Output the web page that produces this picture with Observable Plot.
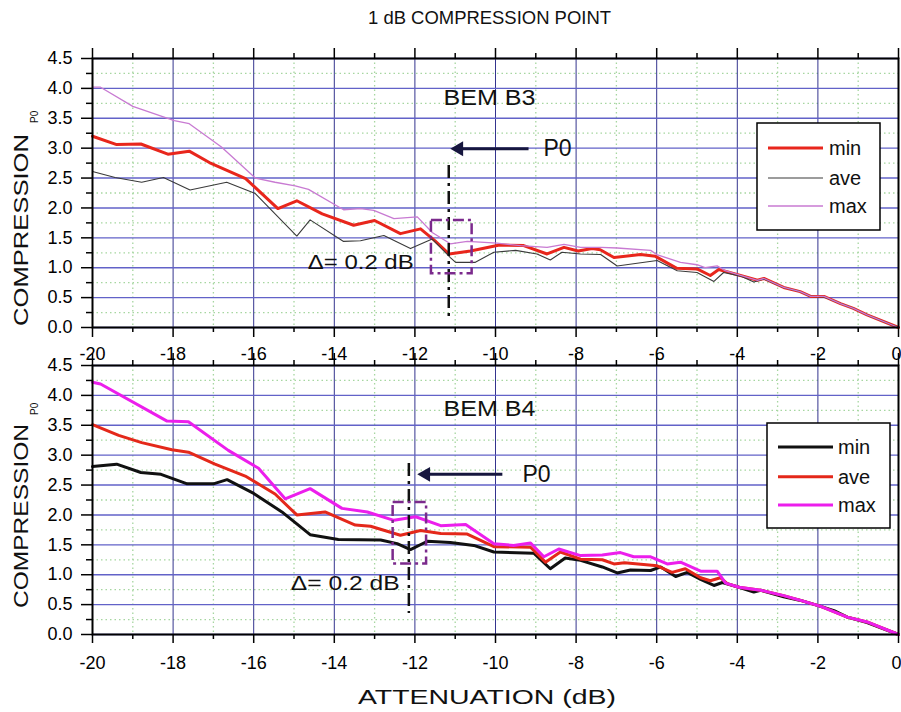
<!DOCTYPE html>
<html>
<head>
<meta charset="utf-8">
<script src="https://cdn.jsdelivr.net/npm/d3@7"></script>
<script src="https://cdn.jsdelivr.net/npm/@observablehq/plot@0.6"></script>
<style>
  body { margin: 0; background: #fff; }
  #wrap { position: relative; width: 901px; height: 712px; overflow: hidden; font-family: "Liberation Sans", Arial, sans-serif; }
  #wrap svg { position: absolute; left: 0; }
</style>
</head>
<body>
<div id="wrap"></div>
<script>
// ---------- tick values ----------
const xTicks = [-20, -18, -16, -14, -12, -10, -8, -6, -4, -2, 0];
const xMinor = [-19, -17, -15, -13, -11, -9, -7, -5, -3, -1];
const yTicks = [0, 0.5, 1, 1.5, 2, 2.5, 3, 3.5, 4, 4.5];
const yMinor = [0.25, 0.75, 1.25, 1.75, 2.25, 2.75, 3.25, 3.75, 4.25];
const seriesNames = ["min", "ave", "max"];

// ---------- BEM B3 (top panel) [attenuation dB, compression] ----------
const b3Min = [[-20,3.20],[-19.4,3.06],[-18.8,3.07],[-18.13,2.90],[-17.6,2.95],[-17.1,2.76],[-16.2,2.49],[-15.4,1.99],[-14.93,2.12],[-14.3,1.90],[-13.52,1.71],[-13.0,1.79],[-12.36,1.57],[-11.86,1.65],[-11.5,1.45],[-11.15,1.23],[-10.62,1.28],[-9.9,1.38],[-9.3,1.37],[-8.72,1.23],[-8.3,1.34],[-7.95,1.28],[-7.6,1.32],[-7.4,1.30],[-7.06,1.17],[-6.4,1.22],[-6.03,1.19],[-5.5,0.99],[-5.0,0.98],[-4.67,0.87],[-4.46,0.97],[-3.92,0.87],[-3.5,0.79],[-3.34,0.82],[-2.85,0.67],[-2.44,0.60],[-2.18,0.52],[-1.85,0.52],[-1.44,0.40],[-1.12,0.32],[-0.78,0.21],[0,0]];
const b3Ave = [[-20,2.61],[-19.44,2.51],[-18.78,2.43],[-18.24,2.51],[-17.58,2.30],[-16.67,2.43],[-15.96,2.24],[-14.93,1.53],[-14.6,1.80],[-13.77,1.44],[-13.35,1.45],[-12.77,1.54],[-12.11,1.32],[-11.57,1.48],[-11.12,1.17],[-10.99,1.09],[-10.5,1.09],[-10.04,1.26],[-9.5,1.29],[-8.97,1.23],[-8.64,1.13],[-8.35,1.26],[-7.89,1.23],[-7.39,1.22],[-6.98,1.03],[-5.99,1.12],[-5.49,0.95],[-5.0,0.92],[-4.58,0.77],[-4.34,0.92],[-3.92,0.86],[-3.59,0.76],[-3.34,0.81],[-2.85,0.67],[-2.44,0.60],[-2.18,0.52],[-1.85,0.51],[-1.44,0.40],[-1.12,0.32],[-0.78,0.21],[0,0]];
const b3Max = [[-20,4.02],[-19.8,4.02],[-19.0,3.70],[-17.97,3.46],[-17.6,3.41],[-16.8,3.02],[-15.96,2.50],[-15.47,2.43],[-14.97,2.37],[-14.64,2.31],[-13.77,1.97],[-13.35,1.99],[-13.02,1.96],[-12.52,1.82],[-11.94,1.85],[-11.57,1.59],[-11.12,1.40],[-10.70,1.44],[-9.96,1.41],[-9.38,1.37],[-8.72,1.34],[-8.30,1.39],[-7.89,1.34],[-7.39,1.34],[-6.98,1.33],[-6.15,1.29],[-6.0,1.22],[-5.41,1.09],[-5.0,1.05],[-4.8,1.00],[-4.5,1.03],[-4.3,0.95],[-3.92,0.87],[-3.5,0.79],[-3.34,0.82],[-2.85,0.67],[-2.44,0.60],[-2.18,0.52],[-1.85,0.52],[-1.44,0.40],[-1.12,0.32],[-0.78,0.21],[0,0]];

// ---------- BEM B4 (bottom panel) ----------
const b4Min = [[-20,2.81],[-19.4,2.85],[-18.8,2.71],[-18.3,2.68],[-17.65,2.52],[-17.0,2.52],[-16.66,2.59],[-16.0,2.36],[-15.3,2.05],[-14.6,1.67],[-13.9,1.59],[-12.85,1.58],[-12.44,1.52],[-12.11,1.42],[-11.69,1.56],[-11.12,1.54],[-10.54,1.49],[-10.04,1.38],[-9.05,1.36],[-8.64,1.10],[-8.27,1.28],[-7.89,1.24],[-7.35,1.13],[-6.98,1.03],[-6.65,1.08],[-6.15,1.07],[-5.9,1.13],[-5.53,0.97],[-5.24,1.04],[-4.91,0.92],[-4.58,0.82],[-4.37,0.87],[-3.96,0.79],[-3.59,0.71],[-3.42,0.74],[-2.85,0.63],[-2.43,0.57],[-1.93,0.47],[-1.6,0.40],[-1.27,0.29],[-0.78,0.20],[0,0]];
const b4Ave = [[-20,3.51],[-19.35,3.33],[-18.78,3.21],[-18.03,3.09],[-17.62,3.05],[-16.96,2.85],[-16.21,2.65],[-15.47,2.35],[-14.93,2.00],[-14.23,2.05],[-13.48,1.83],[-13.1,1.81],[-12.36,1.66],[-11.86,1.74],[-11.36,1.69],[-10.70,1.68],[-10.04,1.47],[-9.13,1.46],[-8.76,1.21],[-8.39,1.38],[-7.89,1.26],[-7.35,1.25],[-7.06,1.18],[-6.8,1.20],[-5.99,1.15],[-5.62,1.04],[-5.29,1.10],[-4.91,0.95],[-4.67,0.90],[-4.42,0.95],[-4.25,0.85],[-3.96,0.79],[-3.42,0.74],[-2.85,0.65],[-2.43,0.57],[-1.93,0.47],[-1.27,0.29],[-0.78,0.21],[0,0]];
const b4Max = [[-20,4.22],[-19.8,4.19],[-18.15,3.57],[-17.62,3.56],[-16.63,3.08],[-15.88,2.78],[-15.22,2.27],[-14.6,2.44],[-13.81,2.11],[-13.18,2.05],[-12.52,1.91],[-11.98,1.97],[-11.36,1.82],[-10.74,1.84],[-10.04,1.52],[-9.55,1.49],[-9.13,1.53],[-8.8,1.30],[-8.43,1.43],[-7.89,1.32],[-7.35,1.33],[-6.9,1.37],[-6.57,1.30],[-6.15,1.30],[-5.74,1.18],[-5.41,1.21],[-4.91,1.06],[-4.5,1.06],[-4.29,0.86],[-3.96,0.79],[-3.42,0.74],[-2.85,0.65],[-2.43,0.57],[-1.93,0.47],[-1.27,0.29],[-0.78,0.21],[0,0]];

// ---------- annotations (data coordinates) ----------
const annB3 = { name: "BEM B3", nameX: -10.15, nameY: 3.84, arrowFrom: -9.18, arrowTip: -11.12, arrowY: 2.99, p0X: -8.81,
  ruleX: -11.16, ruleY1: 2.71, ruleY2: 0.15, box: [-11.59, -10.58, 0.90, 1.79], deltaX: -14.66, deltaY: 1.09 };
const annB4 = { name: "BEM B4", nameX: -10.15, nameY: 3.78, arrowFrom: -9.83, arrowTip: -11.94, arrowY: 2.68, p0X: -9.33,
  ruleX: -12.15, ruleY1: 2.86, ruleY2: 0.35, box: [-12.54, -11.71, 1.18, 2.21], deltaX: -15.08, deltaY: 0.85 };

const FONT = '"Liberation Sans", Arial, sans-serif';
const wrap = document.getElementById("wrap");

function stretch(svg, txt, len) {
  d3.select(svg).selectAll("text").filter(function () { return this.textContent === txt; })
    .attr("textLength", len).attr("lengthAdjust", "spacingAndGlyphs");
}

function panel(cfg) {
  const { series, colors, widths, height, mt, mb, ann, bottomPanel } = cfg;
  const innerTicks = xTicks.slice(0, -1);
  const lastTick = xTicks.slice(-1);
  const marks = [
    Plot.gridX(xMinor, { stroke: "#a6d6a0", strokeOpacity: 1, strokeWidth: 1.3, strokeDasharray: "1.5,3" }),
    Plot.gridY(yMinor, { stroke: "#a6d6a0", strokeOpacity: 1, strokeWidth: 1.3, strokeDasharray: "1.5,3" }),
    Plot.gridX(xTicks, { stroke: "#34348e", strokeOpacity: 1, strokeWidth: 1 }),
    Plot.gridY(yTicks, { stroke: "#6262c8", strokeOpacity: 1, strokeWidth: 1.4 })
  ];
  series.forEach((s, i) => marks.push(
    Plot.line(s, { x: d => d[0], y: d => d[1], stroke: colors[i], strokeWidth: widths[i], strokeLinejoin: "round" })
  ));
  const b = ann.box;
  marks.push(
    Plot.ruleX([ann], { x: "ruleX", y1: "ruleY1", y2: "ruleY2", stroke: "#111", strokeWidth: 2.5, strokeDasharray: "13,5,3,5" }),
    Plot.rect([{ x1: b[0], x2: b[1], y1: b[2], y2: b[3] }], { x1: "x1", x2: "x2", y1: "y1", y2: "y2", fill: "none", stroke: "#7b2a8c", strokeWidth: 2.5, strokeDasharray: "11,4,3,4" }),
    Plot.link([ann], { x1: "arrowFrom", x2: d => d.arrowTip + 0.22, y1: "arrowY", y2: "arrowY", stroke: "#16163e", strokeWidth: 3 }),
    Plot.dot([ann], { x: d => d.arrowTip + 0.21, y: "arrowY", symbol: "triangle", r: 5.5, fill: "#16163e", stroke: "none", rotate: -90 }),
    Plot.text([ann], { x: "nameX", y: "nameY", text: "name", fontSize: 22, textAnchor: "middle", lineAnchor: "middle", fill: "#111" }),
    Plot.text([ann], { x: "p0X", y: "arrowY", text: () => "P0", fontSize: 23, textAnchor: "start", lineAnchor: "middle", fill: "#111" }),
    Plot.text([ann], { x: "deltaX", y: "deltaY", text: () => "Δ= 0.2 dB", fontSize: 21, textAnchor: "start", lineAnchor: "middle", fill: "#111" }),
    Plot.frame({ stroke: "#000", strokeWidth: 2 }),
    Plot.axisY(yTicks, { tickSize: 11, tickPadding: 9, tickFormat: d3.format(".1f"), label: null, strokeWidth: 1.5 }),
    Plot.axisY(yMinor, { tickSize: 6, tickFormat: () => "", label: null, strokeWidth: 1.5 })
  );
  if (!bottomPanel) {
    marks.push(
      Plot.axisX(xTicks, { anchor: "top", tickSize: 11, tickFormat: () => "", label: null, strokeWidth: 1.5 }),
      Plot.axisX(xMinor, { anchor: "top", tickSize: 6, tickFormat: () => "", label: null, strokeWidth: 1.5 }),
      Plot.axisX(xTicks, { anchor: "bottom", tickSize: 10, tickFormat: () => "", label: null, strokeWidth: 1.5 }),
      Plot.axisX(xMinor, { anchor: "bottom", tickSize: 5, tickFormat: () => "", label: null, strokeWidth: 1.5 })
    );
  } else {
    marks.push(
      Plot.axisX(xTicks, { anchor: "top", tickSize: 13, tickFormat: () => "", label: null, strokeWidth: 1.5 }),
      Plot.axisX(xMinor, { anchor: "top", tickSize: 6, tickFormat: () => "", label: null, strokeWidth: 1.5 }),
      Plot.axisX(innerTicks, { anchor: "top", tickSize: 0, tickPadding: 6, tickFormat: d => String(d), label: null }),
      Plot.axisX(lastTick, { anchor: "top", tickSize: 0, tickPadding: 6, tickFormat: d => String(d), label: null, textAnchor: "end", dx: 3 }),
      Plot.axisX(xTicks, { anchor: "bottom", tickSize: 9, tickFormat: () => "", label: null, strokeWidth: 1.5 }),
      Plot.axisX(xMinor, { anchor: "bottom", tickSize: 5, tickFormat: () => "", label: null, strokeWidth: 1.5 }),
      Plot.axisX(innerTicks, { anchor: "bottom", tickSize: 0, tickPadding: 22, tickFormat: d => String(d), label: null }),
      Plot.axisX(lastTick, { anchor: "bottom", tickSize: 0, tickPadding: 22, tickFormat: d => String(d), label: null, textAnchor: "end", dx: 3 })
    );
  }
  return Plot.plot({
    width: 901, height, marginLeft: 92, marginRight: 3, marginTop: mt, marginBottom: mb,
    x: { domain: [-20, 0] },
    y: { domain: [0, 4.5] },
    style: { fontFamily: FONT, fontSize: "18px", color: "#000", background: "transparent", overflow: "visible" },
    marks
  });
}

function legend(svg, x, y, w, h, lx1, lx2, tx, ys, colors, widths) {
  const g = d3.select(svg).append("g").attr("text-anchor", "start");
  g.append("rect").attr("x", x).attr("y", y).attr("width", w).attr("height", h)
    .attr("fill", "#fff").attr("stroke", "#000").attr("stroke-width", 1.5);
  seriesNames.forEach((n, i) => {
    g.append("line").attr("x1", lx1).attr("x2", lx2).attr("y1", ys[i]).attr("y2", ys[i])
      .attr("stroke", colors[i]).attr("stroke-width", widths[i]);
    g.append("text").attr("x", tx).attr("y", ys[i]).attr("dy", "0.35em").attr("text-anchor", "start")
      .attr("font-family", FONT).attr("font-size", 20).attr("fill", "#111").text(n);
  });
}

function yTitle(svg, x, yStart, len, subX, subY) {
  const s = d3.select(svg);
  s.append("text").attr("transform", `translate(${x},${yStart}) rotate(-90)`).attr("text-anchor", "start")
    .attr("font-family", FONT).attr("font-size", 21).attr("fill", "#111")
    .attr("textLength", len).attr("lengthAdjust", "spacingAndGlyphs").text("COMPRESSION");
  s.append("text").attr("transform", `translate(${subX},${subY}) rotate(-90)`).attr("text-anchor", "start")
    .attr("font-family", FONT).attr("font-size", 10).attr("fill", "#111").text("P0");
}

// ---------- top panel ----------
const topColors = ["#e8261c", "#3a3a3a", "#c87ad2"];
const topWidths = [3, 1.1, 1.3];
const topSvg = panel({ series: [b3Min, b3Ave, b3Max], colors: topColors, widths: topWidths, height: 342, mt: 58, mb: 15, ann: annB3, bottomPanel: false });
topSvg.style.top = "0px";
wrap.appendChild(topSvg);

// ---------- bottom panel ----------
const botColors = ["#111111", "#e4281a", "#ec1eec"];
const botWidths = [3, 3, 3];
const botSvg = panel({ series: [b4Min, b4Ave, b4Max], colors: botColors, widths: botWidths, height: 382, mt: 35, mb: 78, ann: annB4, bottomPanel: true });
botSvg.style.top = "330px";
wrap.appendChild(botSvg);

// text tuning
stretch(topSvg, "BEM B3", 92); stretch(botSvg, "BEM B4", 92);
stretch(topSvg, "Δ= 0.2 dB", 106); stretch(botSvg, "Δ= 0.2 dB", 109);

// title (above)
d3.select(topSvg).append("text").attr("x", 489.5).attr("y", 24).attr("text-anchor", "middle")
  .attr("font-family", FONT).attr("font-size", 18).attr("fill", "#111")
  .attr("textLength", 243).attr("lengthAdjust", "spacingAndGlyphs").text("1 dB COMPRESSION POINT");

// x axis title (below)
d3.select(botSvg).append("text").attr("x", 487).attr("y", 374).attr("text-anchor", "middle")
  .attr("font-family", FONT).attr("font-size", 20).attr("fill", "#111")
  .attr("textLength", 258).attr("lengthAdjust", "spacingAndGlyphs").text("ATTENUATION (dB)");

// y titles
yTitle(topSvg, 28, 326, 192, 38, 123);
yTitle(botSvg, 28, 278, 184, 38, 85);

// legends
legend(topSvg, 757, 123, 123, 107, 768, 823, 829, [148, 178, 206], topColors, [3, 1.1, 1.3]);
legend(botSvg, 767, 93, 123, 105, 778, 833, 838, [117, 146.7, 175], botColors, botWidths);
</script>
</body>
</html>
